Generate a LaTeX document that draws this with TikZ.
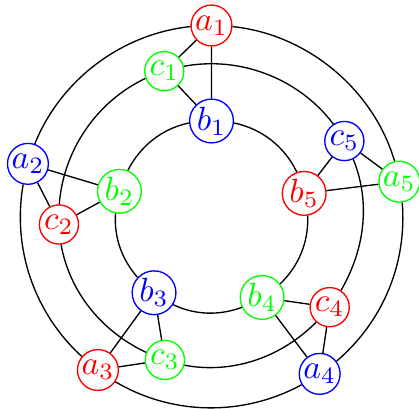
\documentclass[tikz,border=0pt]{standalone}
\usepackage{amsmath,amssymb}
\usepackage{xcolor}
\usepackage{tikz}
\tikzset{
  vtx/.style={draw,circle,inner sep=0.3pt,minimum size=0.41cm},
  redv/.style={vtx,draw=red,text=red},
  bluev/.style={vtx,draw=blue,text=blue},
  greenv/.style={vtx,draw=green,text=green},
  ring/.style={black,looseness=0.91}
}

\begin{document}
\begin{tikzpicture}
\useasboundingbox (-2.215,-2.016) rectangle (2.173,2.267);
% outer ring
\node[redv] (a1) at (90:2) {$a_1$};
\node[bluev] (a2) at (164:2) {$a_2$};
\node[redv] (a3) at (233.5:2) {$a_3$};
\node[bluev] (a4) at (304.5:2) {$a_4$};
\node[greenv] (a5) at (10.5:2) {$a_5$};
% middle ring
\node[greenv] (c1) at (108:1.6) {$c_1$};
\node[redv] (c2) at (183:1.6) {$c_2$};
\node[greenv] (c3) at (252:1.58) {$c_3$};
\node[redv] (c4) at (322.5:1.56) {$c_4$};
\node[bluev] (c5) at (29.6:1.6) {$c_5$};
% inner ring
\node[bluev] (b1) at (90:1) {$b_1$};
\node[greenv] (b2) at (164.7:1) {$b_2$};
\node[bluev] (b3) at (233:1) {$b_3$};
\node[greenv] (b4) at (302:1) {$b_4$};
\node[redv] (b5) at (14:1) {$b_5$};
% arcs, outer
\draw[ring] (a1.183) to[out=186,in=68] (a2.71);
\draw[ring] (a2.257) to[out=260,in=137.6] (a3.140.5);
\draw[ring] (a3.326.5) to[out=329.4,in=208.6] (a4.211.5);
\draw[ring] (a4.37.5) to[out=40.4,in=-85.4] (a5.-82.5);
\draw[ring] (a5.103.5) to[out=106.4,in=-5.9] (a1.-3);
% arcs, middle
\draw[ring] (c1.201.7) to[out=205.35,in=85.65] (c2.89.3);
\draw[ring] (c2.276.7) to[out=280.35,in=154.65] (c3.158.3);
\draw[ring] (c3.345.7) to[out=349.35,in=225.15] (c4.228.8);
\draw[ring] (c4.56.2) to[out=59.85,in=-67.75] (c5.-64.1);
\draw[ring] (c5.123.3) to[out=126.95,in=10.65] (c1.14.3);
% arcs, inner
\draw[ring] (b1.185.9) to[out=191.8,in=62.9] (b2.68.8);
\draw[ring] (b2.260.6) to[out=266.5,in=131.2] (b3.137.1);
\draw[ring] (b3.328.9) to[out=334.8,in=200.2] (b4.206.1);
\draw[ring] (b4.37.9) to[out=43.8,in=-87.8] (b5.-81.9);
\draw[ring] (b5.109.9) to[out=115.8,in=-11.8] (b1.-5.9);
% triangles
\draw (a1) -- (b1) -- (c1) -- (a1);
\draw (a2) -- (b2) -- (c2) -- (a2);
\draw (a3) -- (b3) -- (c3) -- (a3);
\draw (a4) -- (b4) -- (c4) -- (a4);
\draw (a5) -- (b5) -- (c5) -- (a5);
\end{tikzpicture}
\end{document}
